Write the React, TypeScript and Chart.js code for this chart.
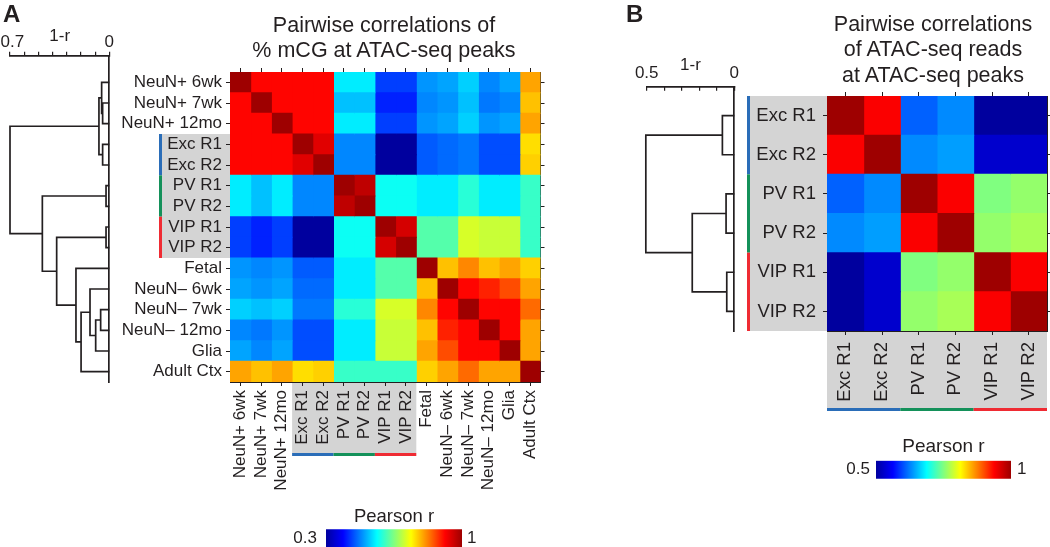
import React, { useEffect, useRef } from 'react';
import { Chart, registerables } from 'chart.js';

Chart.register(...registerables);

const FONT = "'Liberation Sans', Arial, Helvetica, sans-serif";
const INK = '#231f20';
const GRAY = '#d4d4d4';
const GROUP_COLORS = ['#2a6db8', '#14915a', '#ef2b33'];
const JET_END = 0.62; // intensity of the darkest blue / darkest red ends of the colour scale

// ---------------- Panel A: % mCG at ATAC-seq peaks ----------------
const A_LABELS = [
  'NeuN+ 6wk', 'NeuN+ 7wk', 'NeuN+ 12mo', 'Exc R1', 'Exc R2', 'PV R1', 'PV R2',
  'VIP R1', 'VIP R2', 'Fetal', 'NeuN\u2013 6wk', 'NeuN\u2013 7wk', 'NeuN\u2013 12mo', 'Glia', 'Adult Ctx',
];
const A_CORR: number[][] = [
  [1.00, 0.91, 0.91, 0.91, 0.91, 0.55, 0.55, 0.43, 0.43, 0.49, 0.50, 0.53, 0.48, 0.50, 0.80],
  [0.91, 1.00, 0.91, 0.91, 0.91, 0.52, 0.52, 0.41, 0.41, 0.48, 0.49, 0.52, 0.47, 0.48, 0.78],
  [0.91, 0.91, 1.00, 0.91, 0.91, 0.55, 0.55, 0.43, 0.43, 0.49, 0.50, 0.53, 0.49, 0.50, 0.80],
  [0.91, 0.91, 0.91, 1.00, 0.94, 0.48, 0.48, 0.30, 0.30, 0.45, 0.46, 0.47, 0.44, 0.44, 0.76],
  [0.91, 0.91, 0.91, 0.94, 1.00, 0.48, 0.48, 0.30, 0.30, 0.45, 0.46, 0.47, 0.44, 0.44, 0.77],
  [0.55, 0.52, 0.55, 0.48, 0.48, 1.00, 0.97, 0.57, 0.57, 0.55, 0.55, 0.59, 0.55, 0.55, 0.60],
  [0.55, 0.52, 0.55, 0.48, 0.48, 0.97, 1.00, 0.57, 0.57, 0.55, 0.55, 0.59, 0.55, 0.55, 0.60],
  [0.43, 0.41, 0.43, 0.30, 0.30, 0.57, 0.57, 1.00, 0.95, 0.62, 0.62, 0.71, 0.70, 0.70, 0.60],
  [0.43, 0.41, 0.43, 0.30, 0.30, 0.57, 0.57, 0.95, 1.00, 0.62, 0.62, 0.71, 0.70, 0.70, 0.60],
  [0.49, 0.48, 0.49, 0.45, 0.45, 0.55, 0.55, 0.62, 0.62, 1.00, 0.78, 0.82, 0.78, 0.80, 0.77],
  [0.50, 0.49, 0.50, 0.46, 0.46, 0.55, 0.55, 0.62, 0.62, 0.78, 1.00, 0.91, 0.89, 0.86, 0.80],
  [0.53, 0.52, 0.53, 0.47, 0.47, 0.59, 0.59, 0.71, 0.71, 0.82, 0.91, 1.00, 0.91, 0.91, 0.84],
  [0.48, 0.47, 0.49, 0.44, 0.44, 0.55, 0.55, 0.70, 0.70, 0.78, 0.89, 0.91, 1.00, 0.91, 0.80],
  [0.50, 0.48, 0.50, 0.44, 0.44, 0.55, 0.55, 0.70, 0.70, 0.80, 0.86, 0.91, 0.91, 1.00, 0.80],
  [0.80, 0.78, 0.80, 0.76, 0.77, 0.60, 0.60, 0.60, 0.60, 0.77, 0.80, 0.84, 0.80, 0.80, 1.00],
];
const A_MIN = 0.3;
const A_MAX = 1;
const A_GROUP_START = [3, 5, 7];
const A_GROUP_END = [4, 6, 8];
// [childA, childB, height(1-r)]; leaves 0..14, internal nodes numbered from 15
const A_MERGES: [number, number, number][] = [
  [1, 2, 0.047],
  [0, 15, 0.054],
  [3, 4, 0.047],
  [16, 17, 0.073],
  [5, 6, 0.023],
  [7, 8, 0.023],
  [11, 12, 0.061],
  [21, 13, 0.096],
  [10, 22, 0.136],
  [23, 14, 0.199],
  [9, 24, 0.235],
  [20, 25, 0.371],
  [19, 26, 0.472],
  [18, 27, 0.7],
];
const A_DIST_MAX = 0.7;

// ---------------- Panel B: ATAC-seq reads at ATAC-seq peaks ----------------
const B_LABELS = ['Exc R1', 'Exc R2', 'PV R1', 'PV R2', 'VIP R1', 'VIP R2'];
const B_CORR: number[][] = [
  [1.00, 0.94, 0.61, 0.63, 0.50, 0.50],
  [0.94, 1.00, 0.63, 0.64, 0.53, 0.53],
  [0.61, 0.63, 1.00, 0.94, 0.75, 0.76],
  [0.63, 0.64, 0.94, 1.00, 0.76, 0.77],
  [0.50, 0.53, 0.75, 0.76, 1.00, 0.94],
  [0.50, 0.53, 0.76, 0.77, 0.94, 1.00],
];
const B_MIN = 0.5;
const B_MAX = 1;
const B_GROUP_START = [0, 2, 4];
const B_GROUP_END = [1, 3, 5];
const B_MERGES: [number, number, number][] = [
  [0, 1, 0.068],
  [2, 3, 0.047],
  [4, 5, 0.043],
  [7, 8, 0.24],
  [6, 9, 0.505],
];
const B_DIST_MAX = 0.5;

// ---------------- helpers ----------------
type Box = { l: number; t: number; r: number; b: number };
const CW = 1100;
const CH = 600;

function jet(t: number): string {
  const u = Math.min(1, Math.max(0, t));
  let r = 0;
  let g = 0;
  let b = 0;
  if (u < 0.125) {
    b = JET_END + (1 - JET_END) * (u / 0.125);
  } else if (u < 0.375) {
    g = (u - 0.125) / 0.25;
    b = 1;
  } else if (u < 0.625) {
    r = (u - 0.375) / 0.25;
    g = 1;
    b = 1 - r;
  } else if (u < 0.875) {
    r = 1;
    g = 1 - (u - 0.625) / 0.25;
  } else {
    r = 1 - (1 - JET_END) * ((u - 0.875) / 0.125);
  }
  const c = (v: number) => Math.round(255 * Math.min(1, Math.max(0, v)));
  return `rgb(${c(r)},${c(g)},${c(b)})`;
}

interface HeatSpec {
  labels: string[];
  corr: number[][];
  vmin: number;
  vmax: number;
  area: Box;
  fontSize: number;
  labelPad: number;
  groupStart: number[];
  groupEnd: number[];
  grayW: number;
  grayH: number;
}

function heatmapConfig(s: HeatSpec): any {
  const n = s.labels.length;
  const LEFT_W = 170;
  const BOTTOM_H = 130;
  const TICK = 4;
  const centerTicks = (scale: any) => {
    scale.ticks = s.labels.map((_, j) => ({ value: j + 0.5 }));
  };
  const datasets = s.labels.map((_, j) => ({
    data: s.labels.map(() => [j, j + 1]),
    backgroundColor: s.labels.map((__, i) => jet((s.corr[i][j] - s.vmin) / (s.vmax - s.vmin))),
    borderWidth: 0,
    barPercentage: 1,
    categoryPercentage: 1,
    grouped: false,
    inflateAmount: 0.5,
  }));
  const frame = { display: true, color: INK, width: 1 };
  const tickGrid = { display: true, drawOnChartArea: false, drawTicks: true, tickLength: TICK, color: INK, lineWidth: 1 };
  const font = { family: FONT, size: s.fontSize };
  const groupPlugin = {
    id: 'groupBands',
    beforeDraw(chart: any) {
      const { ctx, chartArea: ca } = chart;
      const ys = chart.scales.y;
      const xs = chart.scales.x;
      const cell = Math.abs(ys.getPixelForValue(1) - ys.getPixelForValue(0));
      const top = (i: number) => ys.getPixelForValue(i) - cell / 2;
      const bot = (i: number) => ys.getPixelForValue(i) + cell / 2;
      const first = s.groupStart[0];
      const last = s.groupEnd[s.groupEnd.length - 1];
      ctx.save();
      ctx.fillStyle = GRAY;
      ctx.fillRect(ca.left - s.grayW, top(first), s.grayW, bot(last) - top(first));
      const gx0 = xs.getPixelForValue(first);
      const gx1 = xs.getPixelForValue(last + 1);
      ctx.fillRect(gx0, ca.bottom, gx1 - gx0, s.grayH);
      s.groupStart.forEach((g, k) => {
        ctx.fillStyle = GROUP_COLORS[k];
        ctx.fillRect(ca.left - s.grayW - 3, top(g), 3, bot(s.groupEnd[k]) - top(g));
        const a = xs.getPixelForValue(g);
        const b = xs.getPixelForValue(s.groupEnd[k] + 1);
        ctx.fillRect(a, ca.bottom + s.grayH, b - a, 3);
      });
      ctx.restore();
    },
  };
  return {
    type: 'bar',
    data: { labels: s.labels, datasets },
    plugins: [groupPlugin],
    options: {
      responsive: false,
      animation: false,
      devicePixelRatio: 1,
      indexAxis: 'y',
      events: [],
      layout: {
        padding: {
          left: s.area.l - LEFT_W,
          top: s.area.t - TICK,
          right: CW - s.area.r - TICK,
          bottom: CH - s.area.b - BOTTOM_H,
        },
      },
      plugins: { legend: { display: false }, tooltip: { enabled: false } },
      scales: {
        x: {
          type: 'linear',
          position: 'bottom',
          min: 0,
          max: n,
          z: 1,
          afterBuildTicks: centerTicks,
          afterFit: (sc: any) => { sc.height = BOTTOM_H; },
          ticks: {
            autoSkip: false,
            minRotation: 90,
            maxRotation: 90,
            padding: s.labelPad,
            color: INK,
            font,
            callback: (_v: any, i: number) => s.labels[i],
          },
          grid: tickGrid,
          border: frame,
        },
        x2: {
          type: 'linear',
          position: 'top',
          min: 0,
          max: n,
          z: 1,
          afterBuildTicks: centerTicks,
          afterFit: (sc: any) => { sc.height = TICK; },
          ticks: { display: false },
          grid: tickGrid,
          border: frame,
        },
        y: {
          type: 'category',
          position: 'left',
          offset: true,
          z: 1,
          afterFit: (sc: any) => { sc.width = LEFT_W; },
          ticks: { autoSkip: false, padding: s.labelPad, color: INK, font },
          grid: { ...tickGrid, offset: false },
          border: frame,
        },
        y2: {
          type: 'category',
          position: 'right',
          offset: true,
          z: 1,
          afterFit: (sc: any) => { sc.width = TICK; },
          ticks: { display: false },
          grid: { ...tickGrid, offset: false },
          border: frame,
        },
      },
    },
  };
}

interface DendroSpec {
  merges: [number, number, number][];
  nLeaves: number;
  distMax: number;
  area: Box;
  heat: Box;
  canvasW: number;
  tickLen: number;
  tickPad: number;
  titlePad: number;
  maxLabelPrefix: string;
}

function dendroConfig(s: DendroSpec): any {
  const TOP_H = 30;
  const cell = (s.heat.b - s.heat.t) / s.nLeaves;
  const yMin = -0.5 - (s.heat.t - s.area.t) / cell;
  const yMax = s.nLeaves - 0.5 + (s.area.b - s.heat.b) / cell;
  const h: number[] = [];
  const y: number[] = [];
  for (let i = 0; i < s.nLeaves; i++) { h.push(0); y.push(i); }
  const datasets = s.merges.map(([a, b, d]) => {
    const seg = [
      { x: h[a], y: y[a] },
      { x: d, y: y[a] },
      { x: d, y: y[b] },
      { x: h[b], y: y[b] },
    ];
    h.push(d);
    y.push((y[a] + y[b]) / 2);
    return {
      data: seg,
      showLine: true,
      pointRadius: 0,
      borderColor: INK,
      borderWidth: 1.7,
      borderJoinStyle: 'miter',
      tension: 0,
      clip: false,
    };
  });
  const near = (a: number, b: number) => Math.abs(a - b) < 1e-6;
  const font17 = { family: FONT, size: 17, lineHeight: 1 };
  return {
    type: 'scatter',
    data: { datasets },
    options: {
      responsive: false,
      animation: false,
      devicePixelRatio: 1,
      events: [],
      layout: {
        padding: {
          left: s.area.l,
          top: s.area.t - TOP_H,
          right: s.canvasW - s.area.r,
          bottom: CH - s.area.b,
        },
      },
      plugins: { legend: { display: false }, tooltip: { enabled: false } },
      scales: {
        x: {
          type: 'linear',
          position: 'top',
          min: 0,
          max: s.distMax,
          reverse: true,
          afterFit: (sc: any) => { sc.height = TOP_H; },
          ticks: {
            stepSize: 0.1,
            autoSkip: false,
            maxRotation: 0,
            padding: s.tickPad,
            color: INK,
            font: font17,
            callback: (v: number) =>
              near(v, s.distMax) ? s.maxLabelPrefix + String(s.distMax) : near(v, 0) ? '0' : '',
          },
          grid: { display: true, drawOnChartArea: false, drawTicks: true, tickLength: s.tickLen, color: INK, lineWidth: 1.2 },
          border: { display: true, color: INK, width: 1.7 },
          title: { display: true, text: '1-r', color: INK, font: font17, padding: { top: s.titlePad, bottom: 0 } },
        },
        y: {
          type: 'linear',
          position: 'right',
          min: yMin,
          max: yMax,
          reverse: true,
          afterFit: (sc: any) => { sc.width = 0; },
          ticks: { display: false },
          grid: { display: false },
          border: { display: true, color: INK, width: 1.7 },
        },
      },
    },
  };
}

function colorbarConfig(vmin: number, vmax: number, area: Box, titleSize: number, labelSize: number, padL: number, padR: number, titlePad: number): any {
  const TOP_H = 22;
  const LW = 40;
  const RW = 30;
  const stops: [number, string][] = [];
  for (let k = 0; k <= 64; k++) stops.push([k / 64, jet(k / 64)]);
  const noGrid = { display: false, drawTicks: false, tickLength: 0 };
  return {
    type: 'bar',
    data: {
      labels: [String(vmin)],
      datasets: [
        {
          data: [[vmin, vmax]],
          backgroundColor: (c: any) => {
            const chart = c.chart;
            const xs = chart.scales && chart.scales.x;
            if (!chart.chartArea || !xs) return 'transparent';
            const g = chart.ctx.createLinearGradient(xs.getPixelForValue(vmin), 0, xs.getPixelForValue(vmax), 0);
            stops.forEach(([p, col]) => g.addColorStop(p, col));
            return g;
          },
          borderWidth: 0,
          barPercentage: 1,
          categoryPercentage: 1,
        },
      ],
    },
    options: {
      responsive: false,
      animation: false,
      devicePixelRatio: 1,
      indexAxis: 'y',
      events: [],
      layout: {
        padding: {
          left: area.l - LW,
          top: area.t - TOP_H,
          right: CW - area.r - RW,
          bottom: CH - area.b,
        },
      },
      plugins: { legend: { display: false }, tooltip: { enabled: false } },
      scales: {
        x: {
          type: 'linear',
          position: 'top',
          min: vmin,
          max: vmax,
          afterFit: (sc: any) => { sc.height = TOP_H; },
          ticks: { display: false },
          grid: noGrid,
          border: { display: false },
          title: {
            display: true,
            text: 'Pearson r',
            color: INK,
            font: { family: FONT, size: titleSize, lineHeight: 1 },
            padding: { top: titlePad, bottom: 0 },
          },
        },
        y: {
          type: 'category',
          position: 'left',
          afterFit: (sc: any) => { sc.width = LW; },
          ticks: { padding: padL, color: INK, font: { family: FONT, size: labelSize } },
          grid: noGrid,
          border: { display: false },
        },
        y2: {
          type: 'category',
          position: 'right',
          labels: [String(vmax)],
          afterFit: (sc: any) => { sc.width = RW; },
          ticks: { padding: padR, color: INK, font: { family: FONT, size: labelSize } },
          grid: noGrid,
          border: { display: false },
        },
      },
    },
  };
}

function ChartCanvas({ x, y, w, h, make }: { x: number; y: number; w: number; h: number; make: () => any }) {
  const ref = useRef<HTMLCanvasElement>(null);
  useEffect(() => {
    if (!ref.current) return;
    const chart = new Chart(ref.current, make());
    return () => chart.destroy();
  }, []);
  return (
    <canvas
      ref={ref}
      width={w}
      height={h}
      style={{ position: 'absolute', left: x, top: y, width: w, height: h, display: 'block' }}
    />
  );
}

// ---------------- layout constants ----------------
const HEAT_A: Box = { l: 230, t: 72, r: 540.5, b: 382 };
const DEND_A: Box = { l: 10, t: 55.7, r: 109.3, b: 382 };
const CBAR_A: Box = { l: 326, t: 529.3, r: 462, b: 547 };
const HEAT_B: Box = { l: 827, t: 96, r: 1047, b: 331 };
const DEND_B: Box = { l: 646.7, t: 86.7, r: 734.3, b: 331 };
const CBAR_B: Box = { l: 876, t: 460.7, r: 1011, b: 478.7 };
const DEND_A_X = -30;
const DEND_B_X = 600;

export default function App() {
  Chart.defaults.font.family = FONT;
  Chart.defaults.color = INK;
  return (
    <div
      style={{
        position: 'fixed',
        left: 0,
        top: 0,
        width: 1050,
        height: 547,
        overflow: 'hidden',
        background: '#ffffff',
        fontFamily: FONT,
        color: INK,
      }}
    >
      <ChartCanvas
        x={0}
        y={0}
        w={CW}
        h={CH}
        make={() =>
          heatmapConfig({
            labels: A_LABELS,
            corr: A_CORR,
            vmin: A_MIN,
            vmax: A_MAX,
            area: HEAT_A,
            fontSize: 17,
            labelPad: 4,
            groupStart: A_GROUP_START,
            groupEnd: A_GROUP_END,
            grayW: 68,
            grayH: 71,
          })
        }
      />
      <ChartCanvas
        x={0}
        y={0}
        w={CW}
        h={CH}
        make={() =>
          heatmapConfig({
            labels: B_LABELS,
            corr: B_CORR,
            vmin: B_MIN,
            vmax: B_MAX,
            area: HEAT_B,
            fontSize: 18.5,
            labelPad: 7,
            groupStart: B_GROUP_START,
            groupEnd: B_GROUP_END,
            grayW: 77,
            grayH: 77,
          })
        }
      />
      <ChartCanvas
        x={DEND_A_X}
        y={0}
        w={200}
        h={CH}
        make={() =>
          dendroConfig({
            merges: A_MERGES,
            nLeaves: A_LABELS.length,
            distMax: A_DIST_MAX,
            area: { l: DEND_A.l - DEND_A_X, t: DEND_A.t, r: DEND_A.r - DEND_A_X, b: DEND_A.b },
            heat: HEAT_A,
            canvasW: 200,
            tickLen: 4,
            tickPad: 0.5,
            titlePad: 1.8,
            maxLabelPrefix: ' ',
          })
        }
      />
      <ChartCanvas
        x={DEND_B_X}
        y={0}
        w={200}
        h={CH}
        make={() =>
          dendroConfig({
            merges: B_MERGES,
            nLeaves: B_LABELS.length,
            distMax: B_DIST_MAX,
            area: { l: DEND_B.l - DEND_B_X, t: DEND_B.t, r: DEND_B.r - DEND_B_X, b: DEND_B.b },
            heat: HEAT_B,
            canvasW: 200,
            tickLen: -4,
            tickPad: 8.4,
            titlePad: 0,
            maxLabelPrefix: '',
          })
        }
      />
      <ChartCanvas x={0} y={0} w={CW} h={CH} make={() => colorbarConfig(A_MIN, A_MAX, CBAR_A, 18.5, 17, 9, 5, 0)} />
      <ChartCanvas x={0} y={0} w={CW} h={CH} make={() => colorbarConfig(B_MIN, B_MAX, CBAR_B, 19, 17, 6, 6, -1)} />

      <div style={{ position: 'absolute', left: 3, top: 1.7, fontSize: 24, lineHeight: '24px', fontWeight: 'bold' }}>A</div>
      <div style={{ position: 'absolute', left: 626, top: 1.7, fontSize: 24, lineHeight: '24px', fontWeight: 'bold' }}>B</div>

      <div
        style={{
          position: 'absolute',
          left: 184,
          top: 13.3,
          width: 400,
          textAlign: 'center',
          fontSize: 21.5,
          lineHeight: '24.5px',
          whiteSpace: 'nowrap',
        }}
      >
        <div>Pairwise correlations of</div>
        <div>% mCG at ATAC-seq peaks</div>
      </div>
      <div
        style={{
          position: 'absolute',
          left: 733,
          top: 11.5,
          width: 400,
          textAlign: 'center',
          fontSize: 21.5,
          lineHeight: '25.5px',
          whiteSpace: 'nowrap',
        }}
      >
        <div>Pairwise correlations</div>
        <div>of ATAC-seq reads</div>
        <div>at ATAC-seq peaks</div>
      </div>
    </div>
  );
}
